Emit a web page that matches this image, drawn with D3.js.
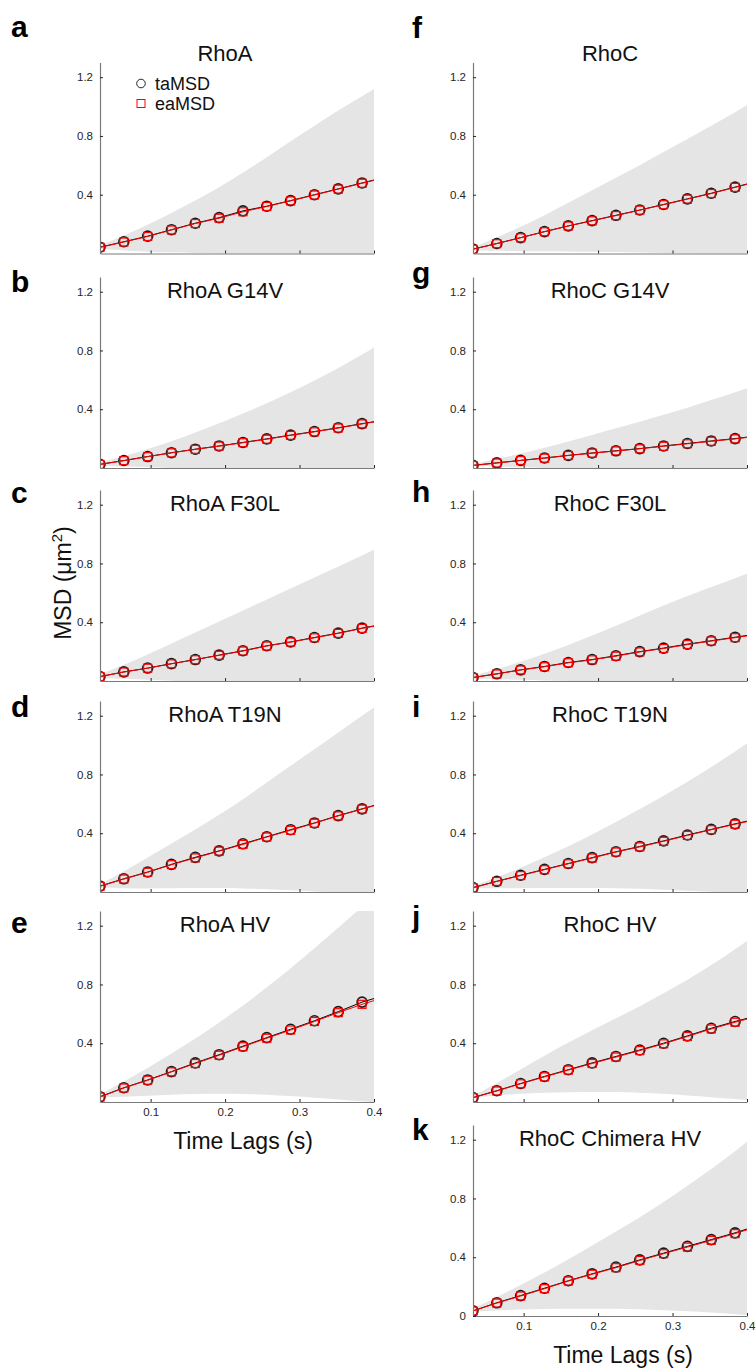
<!DOCTYPE html>
<html>
<head>
<meta charset="utf-8">
<script src="https://cdn.jsdelivr.net/npm/d3@7"></script>
<style>
  body { margin: 0; background: #fff; }
  svg { display: block; font-family: "Liberation Sans", Arial, sans-serif; }
</style>
</head>
<body>
<svg id="drawing_region"></svg>
<script>
// time lags (s); the 13th lag lies past the axis and is only used for the clipped lines / band
const lags = [0.032, 0.064, 0.096, 0.128, 0.160, 0.192, 0.224, 0.256, 0.288, 0.320, 0.352, 0.384, 0.416];

const titles  = ["RhoA", "RhoA G14V", "RhoA F30L", "RhoA T19N", "RhoA HV",
                 "RhoC", "RhoC G14V", "RhoC F30L", "RhoC T19N", "RhoC HV", "RhoC Chimera HV"];
const letters = ["a", "b", "c", "d", "e", "f", "g", "h", "i", "j", "k"];

// time-averaged MSD (black circles)
const taMSD = [
  [0.043, 0.080, 0.118, 0.162, 0.206, 0.244, 0.290, 0.322, 0.360, 0.400, 0.440, 0.480, 0.520],
  [0.025, 0.051, 0.078, 0.104, 0.128, 0.150, 0.174, 0.198, 0.224, 0.248, 0.274, 0.302, 0.328],
  [0.030, 0.062, 0.088, 0.118, 0.146, 0.176, 0.206, 0.240, 0.266, 0.296, 0.326, 0.360, 0.390],
  [0.040, 0.090, 0.136, 0.188, 0.236, 0.280, 0.328, 0.376, 0.424, 0.470, 0.520, 0.566, 0.612],
  [0.036, 0.097, 0.150, 0.207, 0.266, 0.322, 0.380, 0.438, 0.495, 0.553, 0.615, 0.680, 0.728],
  [0.030, 0.068, 0.108, 0.149, 0.188, 0.224, 0.260, 0.296, 0.334, 0.372, 0.410, 0.452, 0.494],
  [0.018, 0.035, 0.052, 0.068, 0.086, 0.102, 0.117, 0.132, 0.150, 0.167, 0.184, 0.200, 0.220],
  [0.024, 0.049, 0.076, 0.099, 0.126, 0.146, 0.172, 0.200, 0.224, 0.251, 0.274, 0.298, 0.322],
  [0.030, 0.073, 0.114, 0.154, 0.194, 0.234, 0.274, 0.310, 0.348, 0.388, 0.426, 0.464, 0.500],
  [0.030, 0.077, 0.126, 0.174, 0.220, 0.266, 0.310, 0.354, 0.400, 0.450, 0.502, 0.548, 0.590],
  [0.035, 0.090, 0.139, 0.189, 0.240, 0.287, 0.333, 0.382, 0.428, 0.474, 0.520, 0.566, 0.618]
];

// ensemble-averaged MSD (red squares)
const eaMSD = [
  [0.042, 0.078, 0.116, 0.160, 0.204, 0.240, 0.284, 0.320, 0.358, 0.398, 0.438, 0.478, 0.518],
  [0.024, 0.050, 0.077, 0.103, 0.127, 0.149, 0.172, 0.196, 0.222, 0.246, 0.272, 0.300, 0.326],
  [0.030, 0.061, 0.087, 0.117, 0.145, 0.175, 0.204, 0.238, 0.265, 0.294, 0.324, 0.358, 0.388],
  [0.039, 0.088, 0.134, 0.186, 0.232, 0.278, 0.324, 0.374, 0.420, 0.468, 0.518, 0.564, 0.610],
  [0.034, 0.095, 0.148, 0.205, 0.262, 0.318, 0.376, 0.434, 0.490, 0.548, 0.608, 0.665, 0.715],
  [0.029, 0.067, 0.107, 0.148, 0.187, 0.222, 0.258, 0.295, 0.332, 0.370, 0.408, 0.450, 0.492],
  [0.017, 0.034, 0.051, 0.067, 0.085, 0.101, 0.116, 0.131, 0.148, 0.165, 0.182, 0.198, 0.218],
  [0.023, 0.048, 0.075, 0.097, 0.124, 0.144, 0.169, 0.198, 0.221, 0.248, 0.272, 0.295, 0.318],
  [0.029, 0.072, 0.112, 0.152, 0.192, 0.231, 0.272, 0.307, 0.345, 0.385, 0.424, 0.461, 0.497],
  [0.029, 0.075, 0.124, 0.171, 0.217, 0.262, 0.306, 0.350, 0.396, 0.446, 0.497, 0.543, 0.586],
  [0.034, 0.088, 0.136, 0.186, 0.238, 0.284, 0.329, 0.378, 0.424, 0.469, 0.515, 0.561, 0.612]
];

// upper / lower edge of the grey spread band
const bandHigh = [
  [0.055, 0.120, 0.195, 0.275, 0.360, 0.450, 0.550, 0.655, 0.765, 0.870, 0.975, 1.070, 1.170],
  [0.035, 0.080, 0.130, 0.180, 0.240, 0.305, 0.370, 0.440, 0.515, 0.595, 0.680, 0.770, 0.870],
  [0.045, 0.110, 0.180, 0.255, 0.330, 0.405, 0.480, 0.555, 0.630, 0.705, 0.780, 0.855, 0.930],
  [0.050, 0.140, 0.235, 0.330, 0.425, 0.525, 0.630, 0.745, 0.860, 0.970, 1.085, 1.200, 1.310],
  [0.050, 0.140, 0.230, 0.330, 0.430, 0.540, 0.655, 0.780, 0.910, 1.045, 1.185, 1.330, 1.480],
  [0.040, 0.110, 0.180, 0.260, 0.345, 0.430, 0.515, 0.600, 0.690, 0.780, 0.870, 0.960, 1.060],
  [0.025, 0.060, 0.098, 0.138, 0.180, 0.225, 0.270, 0.315, 0.362, 0.410, 0.462, 0.515, 0.570],
  [0.035, 0.080, 0.130, 0.185, 0.245, 0.310, 0.375, 0.445, 0.515, 0.580, 0.640, 0.700, 0.760],
  [0.040, 0.100, 0.165, 0.235, 0.310, 0.390, 0.475, 0.565, 0.655, 0.750, 0.850, 0.955, 1.070],
  [0.040, 0.130, 0.220, 0.315, 0.405, 0.490, 0.570, 0.650, 0.740, 0.830, 0.930, 1.040, 1.150],
  [0.050, 0.130, 0.210, 0.295, 0.385, 0.480, 0.575, 0.670, 0.775, 0.885, 1.000, 1.120, 1.250]
];
const bandLow = [
  [0.030, 0.020, 0.012, 0.008, 0.004, 0.000, -0.010, -0.020, -0.040, -0.060, -0.090, -0.120, -0.150],
  [0.015, 0.010, 0.005, 0.000, -0.010, -0.020, -0.030, -0.050, -0.070, -0.090, -0.110, -0.130, -0.150],
  [0.020, 0.015, 0.008, 0.003, -0.005, -0.015, -0.030, -0.045, -0.060, -0.080, -0.100, -0.120, -0.140],
  [0.030, 0.025, 0.024, 0.025, 0.027, 0.027, 0.025, 0.020, 0.012, 0.004, -0.005, -0.015, -0.030],
  [0.030, 0.035, 0.042, 0.050, 0.055, 0.057, 0.056, 0.050, 0.040, 0.030, 0.018, 0.005, -0.010],
  [0.020, 0.018, 0.016, 0.015, 0.014, 0.012, 0.010, 0.007, 0.003, 0.000, -0.005, -0.010, -0.020],
  [0.015, 0.010, 0.005, 0.000, -0.005, -0.010, -0.020, -0.030, -0.040, -0.050, -0.060, -0.070, -0.080],
  [0.015, 0.012, 0.008, 0.004, 0.000, -0.005, -0.015, -0.025, -0.040, -0.055, -0.070, -0.085, -0.100],
  [0.025, 0.025, 0.026, 0.027, 0.028, 0.028, 0.026, 0.022, 0.015, 0.008, 0.002, -0.005, -0.015],
  [0.030, 0.045, 0.056, 0.063, 0.067, 0.069, 0.068, 0.064, 0.056, 0.045, 0.033, 0.020, 0.005],
  [0.030, 0.038, 0.044, 0.048, 0.050, 0.050, 0.049, 0.046, 0.040, 0.032, 0.024, 0.013, 0.000]
];

const xTicks = [0.1, 0.2, 0.3, 0.4];
const yTicks = [0.4, 0.8, 1.2];
const legendLabels = ["taMSD", "eaMSD"];

// ---- layout ----
const W = 756, H = 1371;
const colX = [100, 473];
const plotW = 274, plotH = 191;
const rowBottom = [253.5, 468, 681, 892, 1102, 1316];
// which column / row each panel sits in
const panelCol = [0, 0, 0, 0, 0, 1, 1, 1, 1, 1, 1];
const panelRow = [0, 1, 2, 3, 4, 0, 1, 2, 3, 4, 5];
const letterY  = [37, 292, 503, 717, 933, 38, 283, 502, 717, 927, 1140];
const letterX  = [11, 412];
const titleDx  = [125, 137];

const svg = d3.select('#drawing_region')
    .attr('width', W)
    .attr('height', H);

const defs = svg.append('defs');

titles.forEach((title, i) => {
    const x0 = colX[panelCol[i]];
    const bottom = rowBottom[panelRow[i]];
    const top = bottom - plotH;
    const isBottom = (i === 4 || i === 10);

    const xscale = d3.scaleLinear().domain([0.032, 0.4]).range([x0, x0 + plotW]);
    const yscale = d3.scaleLinear().domain([0, 1.3]).range([bottom, top]);

    defs.append('clipPath').attr('id', 'clip' + i)
      .append('rect')
        .attr('x', x0).attr('y', top)
        .attr('width', plotW).attr('height', plotH);

    const g = svg.append('g');
    const plot = g.append('g').attr('clip-path', `url(#clip${i})`);

    // spread band
    const area = d3.area()
        .x((d, k) => xscale(lags[k]))
        .y0((d, k) => yscale(bandLow[i][k]))
        .y1(d => yscale(d))
        .curve(d3.curveBasis);
    plot.append('path')
        .attr('d', area(bandHigh[i]))
        .attr('fill', '#e5e5e5');

    const line = d3.line()
        .x((d, k) => xscale(lags[k]))
        .y(d => yscale(d));

    // taMSD
    plot.append('path')
        .attr('d', line(taMSD[i]))
        .attr('fill', 'none')
        .attr('stroke', '#000')
        .attr('stroke-width', 1);
    plot.selectAll('circle')
        .data(taMSD[i].filter((d, k) => lags[k] <= 0.4))
        .enter()
        .append('circle')
        .attr('cx', (d, k) => xscale(lags[k]))
        .attr('cy', d => yscale(d))
        .attr('r', 5)
        .attr('fill', 'none')
        .attr('stroke', '#1a1a1a')
        .attr('stroke-width', 1.6);

    // eaMSD
    plot.append('path')
        .attr('d', line(eaMSD[i]))
        .attr('fill', 'none')
        .attr('stroke', '#ff0000')
        .attr('stroke-width', 1);
    plot.selectAll('rect.sq')
        .data(eaMSD[i].filter((d, k) => lags[k] <= 0.4))
        .enter()
        .append('rect')
        .attr('class', 'sq')
        .attr('x', (d, k) => xscale(lags[k]) - 4)
        .attr('y', d => yscale(d) - 4)
        .attr('width', 8).attr('height', 8)
        .attr('fill', 'none')
        .attr('stroke', '#ff0000')
        .attr('stroke-width', 1.2);

    // axes
    const xaxis = d3.axisBottom(xscale)
        .tickValues(xTicks)
        .tickSizeInner(-3)
        .tickSizeOuter(0)
        .tickPadding(6)
        .tickFormat(isBottom ? d3.format('.1f') : () => '');
    const xg = g.append('g')
        .attr('transform', `translate(0, ${bottom})`)
        .call(xaxis);

    const yaxis = d3.axisLeft(yscale)
        .tickValues(i === 10 ? [0].concat(yTicks) : yTicks)
        .tickSizeInner(-3)
        .tickSizeOuter(0)
        .tickPadding(7)
        .tickFormat(d => d === 0 ? '0' : d3.format('.1f')(d));
    const yg = g.append('g')
        .attr('transform', `translate(${x0}, 0)`)
        .call(yaxis);

    [xg, yg].forEach(ax => {
        ax.select('.domain').attr('stroke', '#7a7a7a').attr('stroke-width', 1.2);
        ax.selectAll('.tick line').attr('stroke', '#262626');
        ax.selectAll('.tick text')
            .attr('fill', '#262626')
            .attr('font-size', '11.5px')
            .attr('font-family', '"Liberation Sans", Arial, sans-serif');
    });

    // title
    g.append('text')
        .attr('x', x0 + titleDx[panelCol[i]])
        .attr('y', panelRow[i] === 0 ? top - 2 : top + 21)
        .attr('text-anchor', 'middle')
        .attr('font-size', '22px')
        .attr('fill', '#111')
        .text(title);

    // panel letter
    svg.append('text')
        .attr('x', letterX[panelCol[i]])
        .attr('y', letterY[i])
        .attr('font-size', '30px')
        .attr('font-weight', 'bold')
        .attr('fill', '#000')
        .text(letters[i]);

    if (isBottom) {
        g.append('text')
            .attr('x', x0 + 143 + panelCol[i] * 7)
            .attr('y', bottom + 47)
            .attr('text-anchor', 'middle')
            .attr('font-size', '23px')
            .attr('fill', '#111')
            .text('Time Lags (s)');
    }

    // legend in first panel
    if (i === 0) {
        const lg = g.append('g');
        lg.append('circle')
            .attr('cx', x0 + 41).attr('cy', top + 21)
            .attr('r', 4.3)
            .attr('fill', 'none')
            .attr('stroke', '#222')
            .attr('stroke-width', 1);
        lg.append('rect')
            .attr('x', x0 + 37).attr('y', top + 37)
            .attr('width', 8).attr('height', 8)
            .attr('fill', 'none')
            .attr('stroke', '#ff0000')
            .attr('stroke-width', 1);
        legendLabels.forEach((lab, k) => {
            lg.append('text')
                .attr('x', x0 + 55)
                .attr('y', top + 27 + k * 20)
                .attr('font-size', '18px')
                .attr('fill', '#111')
                .text(lab);
        });
    }
});

// shared y label
const ylab = svg.append('text')
    .attr('transform', 'translate(71, 583) rotate(-90)')
    .attr('text-anchor', 'middle')
    .attr('font-size', '23px')
    .attr('fill', '#111');
ylab.append('tspan').text('MSD (\u03bcm');
ylab.append('tspan').attr('dy', -9).attr('font-size', '15px').text('2');
ylab.append('tspan').attr('dy', 9).text(')');
</script>
</body>
</html>
